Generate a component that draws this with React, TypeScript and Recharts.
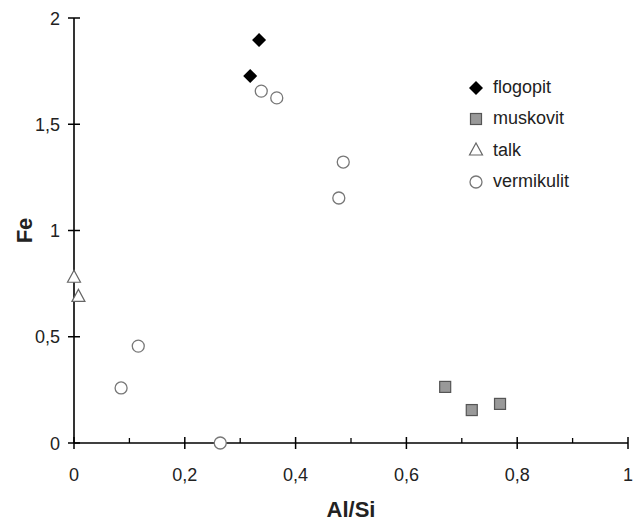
import { Label, Legend, Scatter, ScatterChart, XAxis, YAxis } from "recharts";

type Pt = { x: number; y: number };

const flogopit: Pt[] = [
  { x: 0.334, y: 1.896 },
  { x: 0.318, y: 1.727 },
];
const muskovit: Pt[] = [
  { x: 0.67, y: 0.264 },
  { x: 0.718, y: 0.155 },
  { x: 0.769, y: 0.184 },
];
const talk: Pt[] = [
  { x: 0.0, y: 0.78 },
  { x: 0.008, y: 0.69 },
];
const vermikulit: Pt[] = [
  { x: 0.338, y: 1.656 },
  { x: 0.366, y: 1.624 },
  { x: 0.486, y: 1.322 },
  { x: 0.478, y: 1.153 },
  { x: 0.116, y: 0.456 },
  { x: 0.085, y: 0.259 },
  { x: 0.264, y: 0.0 },
];

const xTicks = [0, 0.1, 0.2, 0.3, 0.4, 0.5, 0.6, 0.7, 0.8, 0.9, 1];
const yTicks = [0, 0.5, 1, 1.5, 2];

const font = '"Liberation Sans", Arial, sans-serif';
const fmt = (v: number) => String(Math.round(v * 10) / 10).replace(".", ",");

function Diamond({ cx, cy }: any) {
  const r = 7;
  return <path d={`M${cx},${cy - r}L${cx + r},${cy}L${cx},${cy + r}L${cx - r},${cy}Z`} fill="#000" />;
}
function Square({ cx, cy }: any) {
  return <rect x={cx - 5.5} y={cy - 5.5} width={11} height={11} fill="#999" stroke="#555" strokeWidth={1.2} />;
}
function Triangle({ cx, cy }: any) {
  return (
    <path
      d={`M${cx},${cy - 7}L${cx + 6.5},${cy + 5}L${cx - 6.5},${cy + 5}Z`}
      fill="#fff"
      stroke="#666"
      strokeWidth={1.2}
    />
  );
}
function Circle({ cx, cy }: any) {
  return <circle cx={cx} cy={cy} r={6} fill="#fff" stroke="#777" strokeWidth={1.3} />;
}

const shapes: Record<string, any> = { flogopit: Diamond, muskovit: Square, talk: Triangle, vermikulit: Circle };

function XTick({ x, y, payload }: any) {
  const v = payload.value;
  const major = Math.round(v * 10) % 2 === 0;
  return (
    <g>
      {major ? (
        <line x1={x} x2={x} y1={y - 6} y2={y + 6} stroke="#000" strokeWidth={1.5} />
      ) : (
        <line x1={x} x2={x} y1={y - 5} y2={y} stroke="#000" strokeWidth={1.3} />
      )}
      {major && (
        <text x={x} y={y + 38} textAnchor="middle" fontSize={18} fontFamily={font} fill="#222">
          {fmt(v)}
        </text>
      )}
    </g>
  );
}

function YTick({ x, y, payload }: any) {
  return (
    <g>
      <line x1={x - 6} x2={x + 6} y1={y} y2={y} stroke="#000" strokeWidth={1.5} />
      <text x={x - 14} y={y + 6.5} textAnchor="end" fontSize={18} fontFamily={font} fill="#222">
        {fmt(payload.value)}
      </text>
    </g>
  );
}

function LegendBox({ payload }: any) {
  return (
    <div style={{ fontFamily: font, fontSize: 18, color: "#222" }}>
      {(payload || []).map((p: any) => {
        const Shape = shapes[p.value];
        return (
          <div key={p.value} style={{ display: "flex", alignItems: "center", height: 31.3 }}>
            <svg width={18} height={18} style={{ marginRight: 8 }}>
              <Shape cx={9} cy={9} />
            </svg>
            <span>{p.value}</span>
          </div>
        );
      })}
    </div>
  );
}

export default function App() {
  return (
    <div style={{ position: "absolute", left: 0, top: 0, width: 637, height: 521, background: "#fff" }}>
      <ScatterChart width={637} height={521} margin={{ top: 18, right: 9, bottom: 0, left: 0 }}>
        <XAxis
          type="number"
          dataKey="x"
          domain={[0, 1]}
          ticks={xTicks}
          interval={0}
          height={78}
          tickSize={0}
          tickMargin={0}
          tick={<XTick />}
          axisLine={{ stroke: "#000", strokeWidth: 1.6 }}
          tickLine={false}
        >
          <Label value="Al/Si" position="insideBottom" offset={4} fontSize={22} fontWeight="bold" fontFamily={font} fill="#222" />
        </XAxis>
        <YAxis
          type="number"
          dataKey="y"
          domain={[0, 2]}
          ticks={yTicks}
          interval={0}
          width={74}
          tickSize={0}
          tickMargin={0}
          tick={<YTick />}
          axisLine={{ stroke: "#000", strokeWidth: 1.6 }}
          tickLine={false}
        >
          <Label value="Fe" angle={-90} position="center" dx={-13} fontSize={22} fontWeight="bold" fontFamily={font} fill="#222" />
        </YAxis>
        <Legend
          layout="vertical"
          align="center"
          verticalAlign="middle"
          content={<LegendBox />}
          wrapperStyle={{ left: 467, top: 72, width: 150 }}
        />
        <Scatter name="flogopit" data={flogopit} shape={<Diamond />} isAnimationActive={false} />
        <Scatter name="muskovit" data={muskovit} shape={<Square />} isAnimationActive={false} />
        <Scatter name="talk" data={talk} shape={<Triangle />} isAnimationActive={false} />
        <Scatter name="vermikulit" data={vermikulit} shape={<Circle />} isAnimationActive={false} />
      </ScatterChart>
    </div>
  );
}
